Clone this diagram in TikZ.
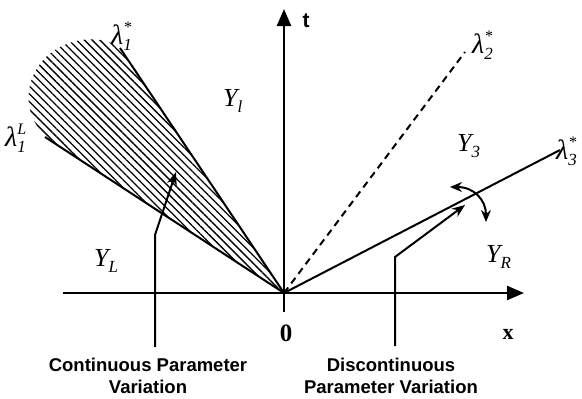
\documentclass[tikz,border=0pt]{standalone}
\usepackage{fontspec}
\setmainfont{Liberation Serif}
\newfontfamily\labelsans{Liberation Sans}
\usetikzlibrary{arrows.meta,patterns.meta}
\newcommand{\sublab}[3]{#1\makebox[0pt][l]{\raisebox{-6pt}{\fontsize{17}{17}\selectfont #2}}\raisebox{12pt}{\fontsize{16}{16}\selectfont #3}}
\begin{document}
\begin{tikzpicture}[x=1pt,y=-1pt,
  axis/.style={line width=2.4pt,-{Triangle[length=17pt,width=14pt]}},
  ray/.style={line width=2pt},
  pointer/.style={line width=2pt,-{Stealth[length=13pt,width=10pt]}},
  mathlbl/.style={font=\itshape\fontsize{26}{28}\selectfont,inner sep=0pt},
  lamlbl/.style={mathlbl,anchor=west,font=\itshape\fontsize{28}{30}\selectfont},
  caption/.style={font=\labelsans\bfseries\fontsize{18.5}{22}\selectfont,align=center,inner sep=0pt}]
\useasboundingbox (0,0) rectangle (582,399);
\coordinate (O) at (284,293);
\coordinate (xs) at (63,293);
\coordinate (xe) at (524,293);
\coordinate (tb) at (284,312);
\coordinate (te) at (284,9);
\coordinate (l1s) at (120,48);
\coordinate (l1L) at (45,137);
\coordinate (l2s) at (465,52);
\coordinate (l3s) at (560,150);
% hatched fan
\path[pattern={Lines[angle=-45,distance=5.5pt,line width=1.3pt]}]
  (O) -- (l1s) .. controls (105,36) and (70,34) .. (45,58)
  .. controls (24,80) and (24,110) .. (40,130) -- (l1L) -- cycle;
% rays
\draw[ray] (O) -- (l1s);
\draw[ray] (O) -- (l1L);
\draw[ray,dash pattern=on 7pt off 5pt] (O) -- (l2s);
\draw[ray] (O) -- (l3s);
% axes
\draw[axis] (xs) -- (xe);
\draw[axis] (tb) -- (te);
% labels
\node[font=\labelsans\bfseries\fontsize{21}{24}\selectfont,inner sep=0pt] (tl) at (306,21) {t};
\node[font=\bfseries\fontsize{25}{28}\selectfont,inner sep=0pt] (zero) at (286,333) {0};
\node[font=\bfseries\fontsize{22}{24}\selectfont,inner sep=0pt] (xl) at (508,334) {x};
\node[lamlbl] (lam1s) at (111,36) {\sublab{λ}{1}{*}};
\node[lamlbl] (lam1L) at (5,138) {\sublab{λ}{1}{L}};
\node[lamlbl] (lam2s) at (472,45) {\sublab{λ}{2}{*}};
\node[lamlbl] (lam3s) at (556,151) {\sublab{λ}{3}{*}};
\node[mathlbl,anchor=west] (Yl) at (223,101) {\sublab{Y}{l}{}};
\node[mathlbl,anchor=west] (Y3) at (457,146) {\sublab{Y}{3}{}};
\node[mathlbl,anchor=west] (YL) at (94,261) {\sublab{Y}{L}{}};
\node[mathlbl,anchor=west] (YR) at (486,257) {\sublab{Y}{R}{}};
% pointers
\coordinate (c0) at (155,347);
\coordinate (c1) at (155,235);
\coordinate (c2) at (176,172);
\draw[pointer] (c0) -- (c1) -- (c2);
\coordinate (d0) at (395,346);
\coordinate (d1) at (395,257);
\coordinate (d2) at (465,205);
\draw[pointer] (d0) -- (d1) -- (d2);
\coordinate (e0) at (450,187);
\coordinate (e1) at (486,222);
\draw[line width=2pt,{Stealth[length=12pt,width=10pt]}-{Stealth[length=12pt,width=10pt]}] (e0) .. controls (474,187) and (486,200) .. (e1);
% captions
\node[caption] (cont) at (148,376) {Continuous Parameter\\Variation};
\node[caption] (disc) at (391,376) {Discontinuous\\Parameter Variation};
\end{tikzpicture}
\end{document}
